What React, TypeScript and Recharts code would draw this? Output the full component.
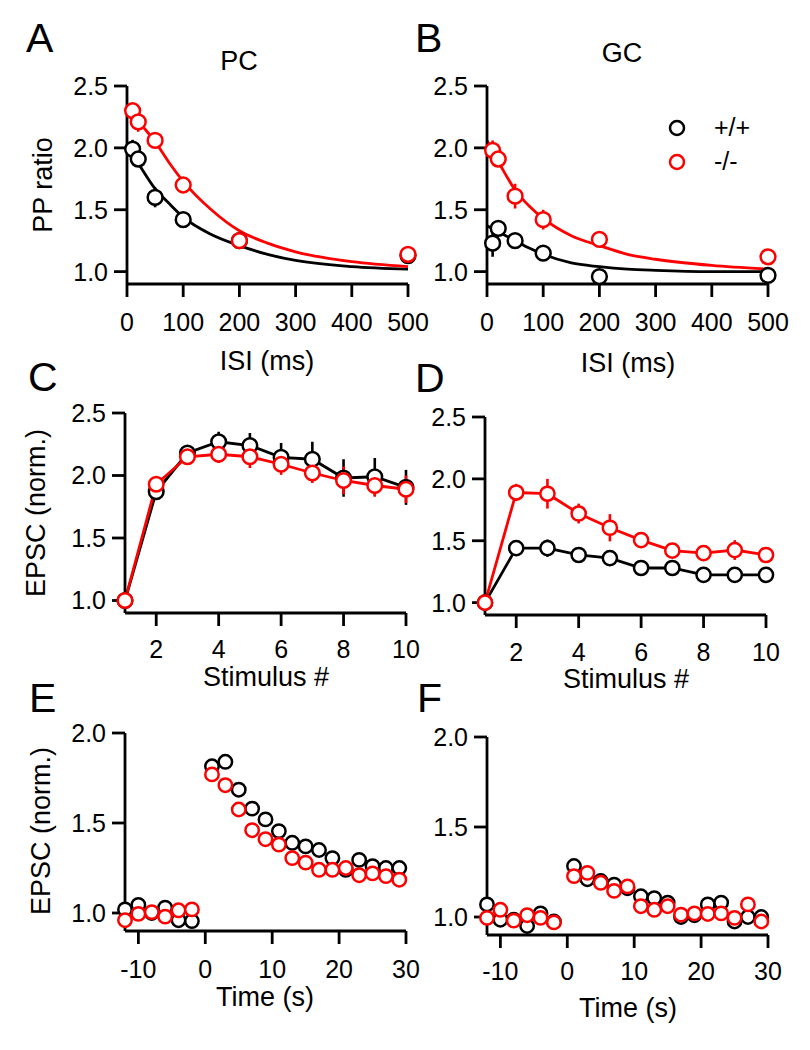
import React from "react";
import { ComposedChart, Line, XAxis, YAxis, ErrorBar } from "recharts";

const FONT = "'Liberation Sans', Arial, Helvetica, sans-serif";
const RED = "#ff0000";
const BLACK = "#000000";

// A / B: paired-pulse ratio vs inter-stimulus interval (ms)
const isi = [10, 20, 50, 100, 200, 500];
const pcWt = [1.99, 1.91, 1.6, 1.42, 1.25, 1.13];
const pcWtErr = [0.075, 0.03, 0.08, 0.04, 0.03, 0.03];
const pcKo = [2.3, 2.21, 2.06, 1.7, 1.25, 1.14];
const pcKoErr = [0.03, 0.08, 0.03, 0.03, 0.03, 0.03];
const gcWt = [1.23, 1.35, 1.25, 1.15, 0.96, 0.97];
const gcWtErr = [0.11, 0.04, 0.03, 0.03, 0.02, 0.02];
const gcKo = [1.98, 1.91, 1.61, 1.42, 1.26, 1.12];
const gcKoErr = [0.08, 0.03, 0.1, 0.08, 0.03, 0.03];

// fitted curves
const fitT = [0, 25, 50, 75, 100, 150, 200, 250, 300, 400, 500];
const pcWtFit = [2.02, 1.84, 1.67, 1.55, 1.44, 1.3, 1.21, 1.14, 1.09, 1.04, 1.02];
const pcKoFit = [2.33, 2.19, 2.05, 1.88, 1.73, 1.5, 1.33, 1.23, 1.16, 1.08, 1.04];
const gcWtFit = [1.37, 1.31, 1.25, 1.19, 1.14, 1.07, 1.04, 1.02, 1.01, 1.0, 1.0];
const gcKoFit = [2.06, 1.85, 1.66, 1.53, 1.43, 1.29, 1.21, 1.14, 1.1, 1.05, 1.02];

// C / D: train of 10 stimuli
const stim = [1, 2, 3, 4, 5, 6, 7, 8, 9, 10];
const pcTrainWt = [1.0, 1.87, 2.18, 2.27, 2.24, 2.145, 2.13, 1.98, 1.99, 1.905];
const pcTrainWtErr = [0, 0.02, 0.03, 0.08, 0.1, 0.115, 0.14, 0.15, 0.15, 0.14];
const pcTrainKo = [1.0, 1.93, 2.15, 2.17, 2.15, 2.09, 2.02, 1.96, 1.92, 1.89];
const pcTrainKoErr = [0, 0.03, 0.03, 0.07, 0.09, 0.085, 0.08, 0.11, 0.09, 0.11];
const gcTrainWt = [1.0, 1.44, 1.44, 1.385, 1.36, 1.28, 1.28, 1.225, 1.225, 1.225];
const gcTrainWtErr = [0, 0.03, 0.07, 0.03, 0.03, 0.03, 0.03, 0.04, 0.05, 0.04];
const gcTrainKo = [1.0, 1.89, 1.88, 1.72, 1.605, 1.505, 1.42, 1.4, 1.425, 1.385];
const gcTrainKoErr = [0, 0.07, 0.12, 0.08, 0.11, 0.03, 0.03, 0.03, 0.08, 0.03];

// E / F: time course (s)
const time = [-12, -10, -8, -6, -4, -2, 1, 3, 5, 7, 9, 11, 13, 15, 17, 19, 21, 23, 25, 27, 29];
const pcTimeWt = [1.02, 1.045, 1.0, 1.03, 0.96, 0.955, 1.815, 1.84, 1.685, 1.58, 1.52, 1.455, 1.39, 1.37, 1.35, 1.305, 1.24, 1.295, 1.26, 1.25, 1.25];
const pcTimeKo = [0.96, 0.995, 1.005, 0.98, 1.015, 1.02, 1.77, 1.71, 1.575, 1.46, 1.41, 1.38, 1.305, 1.28, 1.24, 1.24, 1.25, 1.21, 1.22, 1.205, 1.185];
const gcTimeWt = [1.07, 0.985, 0.985, 0.95, 1.02, 0.975, 1.283, 1.21, 1.2, 1.18, 1.16, 1.115, 1.105, 1.08, 1.0, 1.01, 1.07, 1.08, 0.975, 1.0, 1.0];
const gcTimeKo = [0.995, 1.04, 0.98, 1.01, 0.995, 0.97, 1.227, 1.245, 1.19, 1.145, 1.17, 1.06, 1.04, 1.06, 1.013, 1.02, 1.017, 1.02, 0.995, 1.07, 0.975];

const ratioTicks = [1.0, 1.5, 2.0, 2.5];
const timeYTicks = [1.0, 1.5, 2.0];
const isiTicks = [0, 100, 200, 300, 400, 500];
const stimTicks = [2, 4, 6, 8, 10];
const timeTicks = [-10, 0, 10, 20, 30];

const pts = (xs: number[], ys: number[], errs?: number[]) =>
  xs.map((x, i) => ({ x, y: ys[i], err: errs ? errs[i] : 0 }));

const tickStyle = { fill: "#000", fontSize: 25, fontFamily: FONT };
const axisStyle = { stroke: "#000", strokeWidth: 2.8 };

function fitLine(data: any[], color: string) {
  return (
    <Line
      data={data}
      dataKey="y"
      type="monotone"
      stroke={color}
      strokeWidth={2.8}
      dot={false}
      activeDot={false}
      isAnimationActive={false}
    />
  );
}

function dotSeries(data: any[], color: string, r: number, connect: boolean, err: boolean) {
  return (
    <Line
      data={data}
      dataKey="y"
      type="linear"
      stroke={connect ? color : "none"}
      strokeWidth={2.8}
      dot={{ r, fill: "#fff", stroke: color, strokeWidth: 2.5 }}
      activeDot={false}
      isAnimationActive={false}
    >
      {err && <ErrorBar dataKey="err" direction="y" width={0} stroke={color} strokeWidth={2.6} />}
    </Line>
  );
}

type PanelProps = {
  left: number;
  top: number;
  mTop: number;
  yWidth: number;
  mRight: number;
  xHeight: number;
  xMargin: number;
  height: number;
  xDomain: [number, number];
  xTicks: number[];
  yDomain: [number, number];
  yTicks: number[];
  children: React.ReactNode;
};

function Panel(p: PanelProps) {
  return (
    <div style={{ position: "absolute", left: p.left, top: p.top }}>
      <ComposedChart
        width={430}
        height={p.height}
        margin={{ top: p.mTop, right: p.mRight, bottom: 0, left: 0 }}
      >
        <XAxis
          type="number"
          dataKey="x"
          domain={p.xDomain}
          ticks={p.xTicks}
          interval={0}
          height={p.xHeight}
          tickSize={13}
          tickMargin={p.xMargin}
          axisLine={axisStyle}
          tickLine={axisStyle}
          tick={tickStyle}
        />
        <YAxis
          type="number"
          domain={p.yDomain}
          ticks={p.yTicks}
          interval={0}
          width={p.yWidth}
          tickSize={13}
          tickMargin={6}
          tickFormatter={(v: number) => v.toFixed(1)}
          axisLine={axisStyle}
          tickLine={axisStyle}
          tick={tickStyle}
        />
        {p.children}
      </ComposedChart>
    </div>
  );
}

function Labels() {
  const t = { fontFamily: FONT, fill: "#000" };
  return (
    <svg
      width={810}
      height={1050}
      style={{ position: "absolute", left: 0, top: 0, pointerEvents: "none" }}
    >
      <g {...t} fontSize={41}>
        <text x={26} y={52}>A</text>
        <text x={415} y={52}>B</text>
        <text x={28} y={391}>C</text>
        <text x={415} y={392}>D</text>
        <text x={29} y={712}>E</text>
        <text x={417} y={712}>F</text>
      </g>
      <g {...t} fontSize={27} textAnchor="middle">
        <text x={239} y={70}>PC</text>
        <text x={622} y={62}>GC</text>
        <text x={267} y={370}>ISI (ms)</text>
        <text x={628} y={372}>ISI (ms)</text>
        <text x={266} y={686}>Stimulus #</text>
        <text x={626} y={688}>Stimulus #</text>
        <text x={265} y={1006}>Time (s)</text>
        <text x={628} y={1017}>Time (s)</text>
        <text transform="translate(52,185) rotate(-90)">PP ratio</text>
        <text transform="translate(45,513) rotate(-90)">EPSC (norm.)</text>
        <text transform="translate(50,831) rotate(-90)">EPSC (norm.)</text>
      </g>
      <g>
        <circle cx={677} cy={128} r={7} fill="#fff" stroke={BLACK} strokeWidth={2.5} />
        <circle cx={677} cy={162} r={7} fill="#fff" stroke={RED} strokeWidth={2.5} />
        <text x={714} y={136} fontSize={25} {...t}>+/+</text>
        <text x={714} y={170} fontSize={25} {...t}>-/-</text>
      </g>
    </svg>
  );
}

export default function App() {
  return (
    <div style={{ position: "absolute", left: 0, top: 0, width: 810, height: 1050, background: "#fff" }}>
      <Panel left={0} top={0} height={340} mTop={86} yWidth={127} mRight={22} xHeight={56} xMargin={16}
        xDomain={[0, 500]} xTicks={isiTicks} yDomain={[0.9, 2.5]} yTicks={ratioTicks}>
        {fitLine(pts(fitT, pcWtFit), BLACK)}
        {fitLine(pts(fitT, pcKoFit), RED)}
        {dotSeries(pts(isi, pcWt, pcWtErr), BLACK, 7.4, false, true)}
        {dotSeries(pts(isi, pcKo, pcKoErr), RED, 7.4, false, true)}
      </Panel>
      <Panel left={360} top={0} height={340} mTop={86} yWidth={127} mRight={22} xHeight={56} xMargin={16}
        xDomain={[0, 500]} xTicks={isiTicks} yDomain={[0.9, 2.5]} yTicks={ratioTicks}>
        {fitLine(pts(fitT, gcWtFit), BLACK)}
        {fitLine(pts(fitT, gcKoFit), RED)}
        {dotSeries(pts(isi, gcWt, gcWtErr), BLACK, 7.4, false, true)}
        {dotSeries(pts(isi, gcKo, gcKoErr), RED, 7.4, false, true)}
      </Panel>
      <Panel left={0} top={360} height={330} mTop={53} yWidth={125} mRight={24} xHeight={77} xMargin={14}
        xDomain={[1, 10]} xTicks={stimTicks} yDomain={[0.9, 2.5]} yTicks={ratioTicks}>
        {dotSeries(pts(stim, pcTrainWt, pcTrainWtErr), BLACK, 7.3, true, true)}
        {dotSeries(pts(stim, pcTrainKo, pcTrainKoErr), RED, 7.3, true, true)}
      </Panel>
      <Panel left={360} top={360} height={330} mTop={57} yWidth={125} mRight={24} xHeight={75} xMargin={15}
        xDomain={[1, 10]} xTicks={stimTicks} yDomain={[0.9, 2.5]} yTicks={ratioTicks}>
        {dotSeries(pts(stim, gcTrainWt, gcTrainWtErr), BLACK, 7.1, true, true)}
        {dotSeries(pts(stim, gcTrainKo, gcTrainKoErr), RED, 7.1, true, true)}
      </Panel>
      <Panel left={0} top={680} height={370} mTop={53} yWidth={125} mRight={24} xHeight={119} xMargin={16}
        xDomain={[-12, 30]} xTicks={timeTicks} yDomain={[0.9, 2.0]} yTicks={timeYTicks}>
        {dotSeries(pts(time, pcTimeWt), BLACK, 6.7, false, false)}
        {dotSeries(pts(time, pcTimeKo), RED, 6.7, false, false)}
      </Panel>
      <Panel left={360} top={680} height={370} mTop={57} yWidth={127} mRight={22} xHeight={115} xMargin={14}
        xDomain={[-12, 30]} xTicks={timeTicks} yDomain={[0.9, 2.0]} yTicks={timeYTicks}>
        {dotSeries(pts(time, gcTimeWt), BLACK, 6.7, false, false)}
        {dotSeries(pts(time, gcTimeKo), RED, 6.7, false, false)}
      </Panel>
      <Labels />
    </div>
  );
}
